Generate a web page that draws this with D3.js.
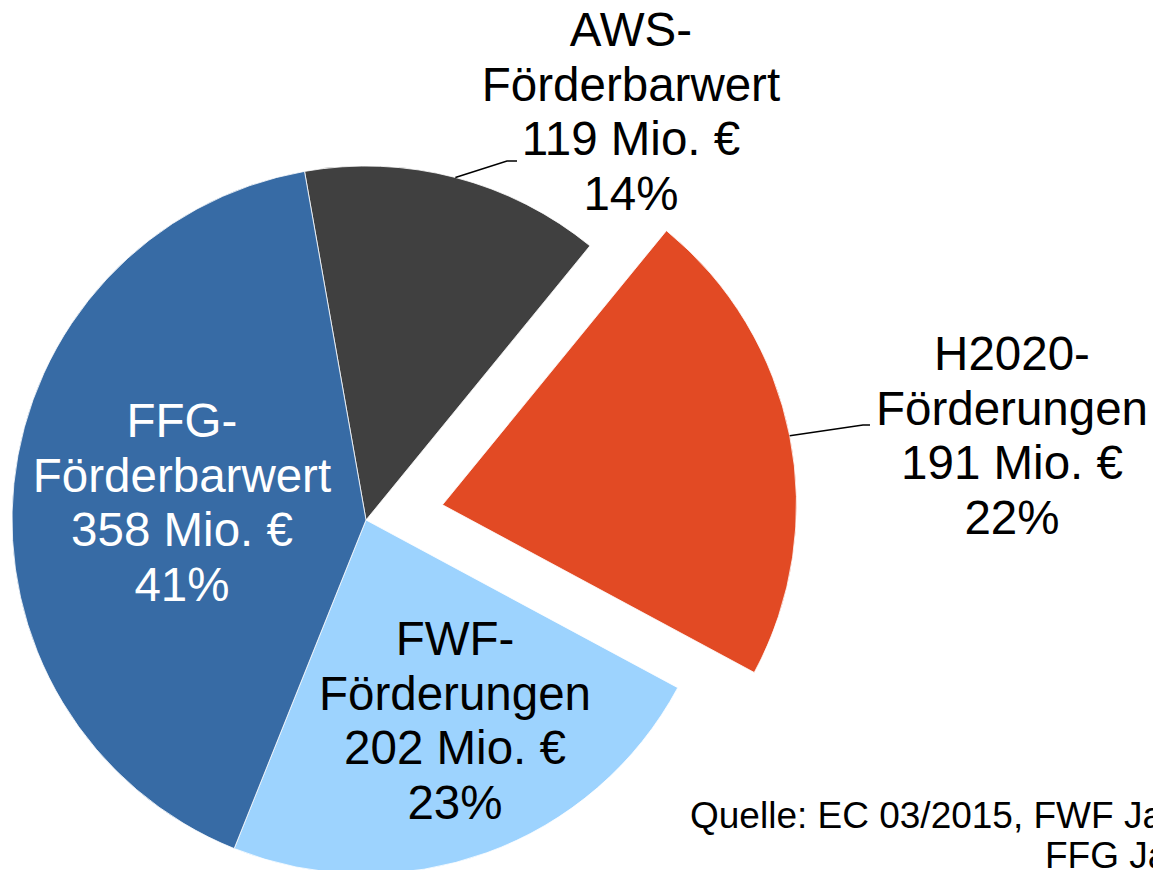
<!DOCTYPE html>
<html>
<head>
  <meta charset="utf-8">
  <title>Förderungen Pie</title>
  <script src="https://cdn.jsdelivr.net/npm/d3@7/dist/d3.min.js"></script>
  <style>
    body { margin: 0; background: #fff; }
    text { font-family: "Liberation Sans", Arial, sans-serif; }
  </style>
</head>
<body>
  <svg id="chart" width="1153" height="870"></svg>

  <script>
    // data (Mio. €)
    var namesTop = ["AWS-", "H2020-", "FWF-", "FFG-"];
    var namesBottom = ["Förderbarwert", "Förderungen", "Förderungen", "Förderbarwert"];
    var values = [119, 191, 202, 358];
    var colors = ["#404040", "#E24A24", "#9DD3FE", "#376BA5"];
    var textColors = ["#000", "#000", "#000", "#fff"];
    var exploded = [false, true, false, false];
    var sourceLines = ["Quelle: EC 03/2015, FWF Jahresbericht 2014,", "FFG Jahresbericht 2014"];

    // layout
    var cx = 366, cy = 520, radius = 354, explode = 78;
    var fontSize = 47.5, lineHeight = 54.5;
    // label anchors: center x and first baseline y
    var labelPos = [[631, 46], [1012, 370], [455, 655], [182, 437]];
    // leader lines (elbow, end) for outside labels
    var leaders = [[[507, 161], [517, 161]], [[863, 425], [870, 425]], null, null];

    var total = d3.sum(values);
    var pct = d3.format(".0%");

    var svg = d3.select("#chart");

    var pie = d3.pie()
      .sort(null)
      .startAngle(-10 * Math.PI / 180)
      .endAngle(350 * Math.PI / 180);

    var arc = d3.arc().innerRadius(0).outerRadius(radius);

    var arcs = pie(values);

    function offset(d, i) {
      if (!exploded[i]) return [0, 0];
      var a = (d.startAngle + d.endAngle) / 2;
      return [explode * Math.sin(a), -explode * Math.cos(a)];
    }

    var g = svg.append("g")
      .attr("transform", "translate(" + cx + "," + cy + ")");

    g.selectAll("path.slice")
      .data(arcs)
      .enter()
      .append("path")
      .attr("class", "slice")
      .attr("transform", (d, i) => "translate(" + offset(d, i) + ")")
      .attr("d", arc)
      .style("fill", (d, i) => colors[i])
      .style("stroke", "#fff")
      .style("stroke-width", 0.8);

    // leader lines from the arc edge to the outside labels
    arcs.forEach(function (d, i) {
      if (!leaders[i]) return;
      var a = (d.startAngle + d.endAngle) / 2;
      var o = offset(d, i);
      var x0 = cx + o[0] + radius * Math.sin(a),
        y0 = cy + o[1] - radius * Math.cos(a);
      svg.append("path")
        .attr("d", d3.line()([[x0, y0], leaders[i][0], leaders[i][1]]))
        .style("fill", "none")
        .style("stroke", "#000")
        .style("stroke-width", 1.5);
    });

    // labels
    arcs.forEach(function (d, i) {
      var lines = [namesTop[i], namesBottom[i], values[i] + " Mio. €", pct(values[i] / total)];
      var t = svg.append("text")
        .attr("text-anchor", "middle")
        .style("font-size", fontSize + "px")
        .style("fill", textColors[i]);
      lines.forEach(function (s, k) {
        t.append("tspan")
          .attr("x", labelPos[i][0])
          .attr("y", labelPos[i][1] + k * lineHeight)
          .text(s);
      });
    });

    // source note (runs past the right edge, as in the original)
    svg.append("text")
      .attr("x", 690).attr("y", 828)
      .style("font-size", "37px")
      .text(sourceLines[0]);
    svg.append("text")
      .attr("x", 1045).attr("y", 868)
      .style("font-size", "37px")
      .text(sourceLines[1]);
  </script>
</body>
</html>
